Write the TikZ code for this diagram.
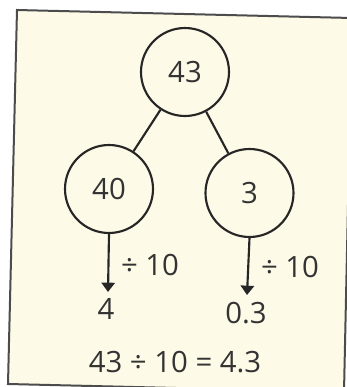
\documentclass[tikz,border=0pt]{standalone}
\usepackage{fontspec}
\setmainfont{Open Sans}
\usetikzlibrary{arrows.meta}
\begin{document}
\begin{tikzpicture}[x=0.75pt,y=-0.75pt,
  circ/.style={draw=black!85,line width=1.6pt,circle,minimum size=66pt,inner sep=0pt,font=\fontsize{22}{24}\selectfont,text=black!80},
  lbl/.style={font=\fontsize{22}{24}\selectfont,text=black!80,inner sep=0pt},
  link/.style={draw=black!85,line width=1.6pt},
  arr/.style={draw=black!85,line width=1.6pt,-{Triangle[width=10pt,length=7pt]}}]
\useasboundingbox (0,0) rectangle (347,387);
\begin{scope}
\clip (0,0) rectangle (347,387);
\fill[white] (0,0) rectangle (347,387);
\filldraw[fill={rgb,255:red,254;green,250;blue,232},draw=black!70,line width=1.5pt]
  (17,10) -- (352,18) -- (344,392) -- (8,384) -- cycle;
\end{scope}
\node[circ] (a) at (185,72) {43};
\node[circ] (b) at (109,189) {40};
\node[circ] (c) at (249.5,193) {3};
\draw[link] (a) -- (b);
\draw[link] (a) -- (c);
\coordinate (bt) at (108,292);
\coordinate (ct) at (247,295);
\draw[arr] (b.south) -- (bt);
\draw[arr] (c.south) -- (ct);
\node[lbl] (d1) at (150,265) {÷ 10};
\node[lbl] (d2) at (290,267) {÷ 10};
\node[lbl] (r1) at (106,309) {4};
\node[lbl] (r2) at (246,313) {0.3};
\node[lbl] (eq) at (175,362) {43 ÷ 10 = 4.3};
\end{tikzpicture}
\end{document}
